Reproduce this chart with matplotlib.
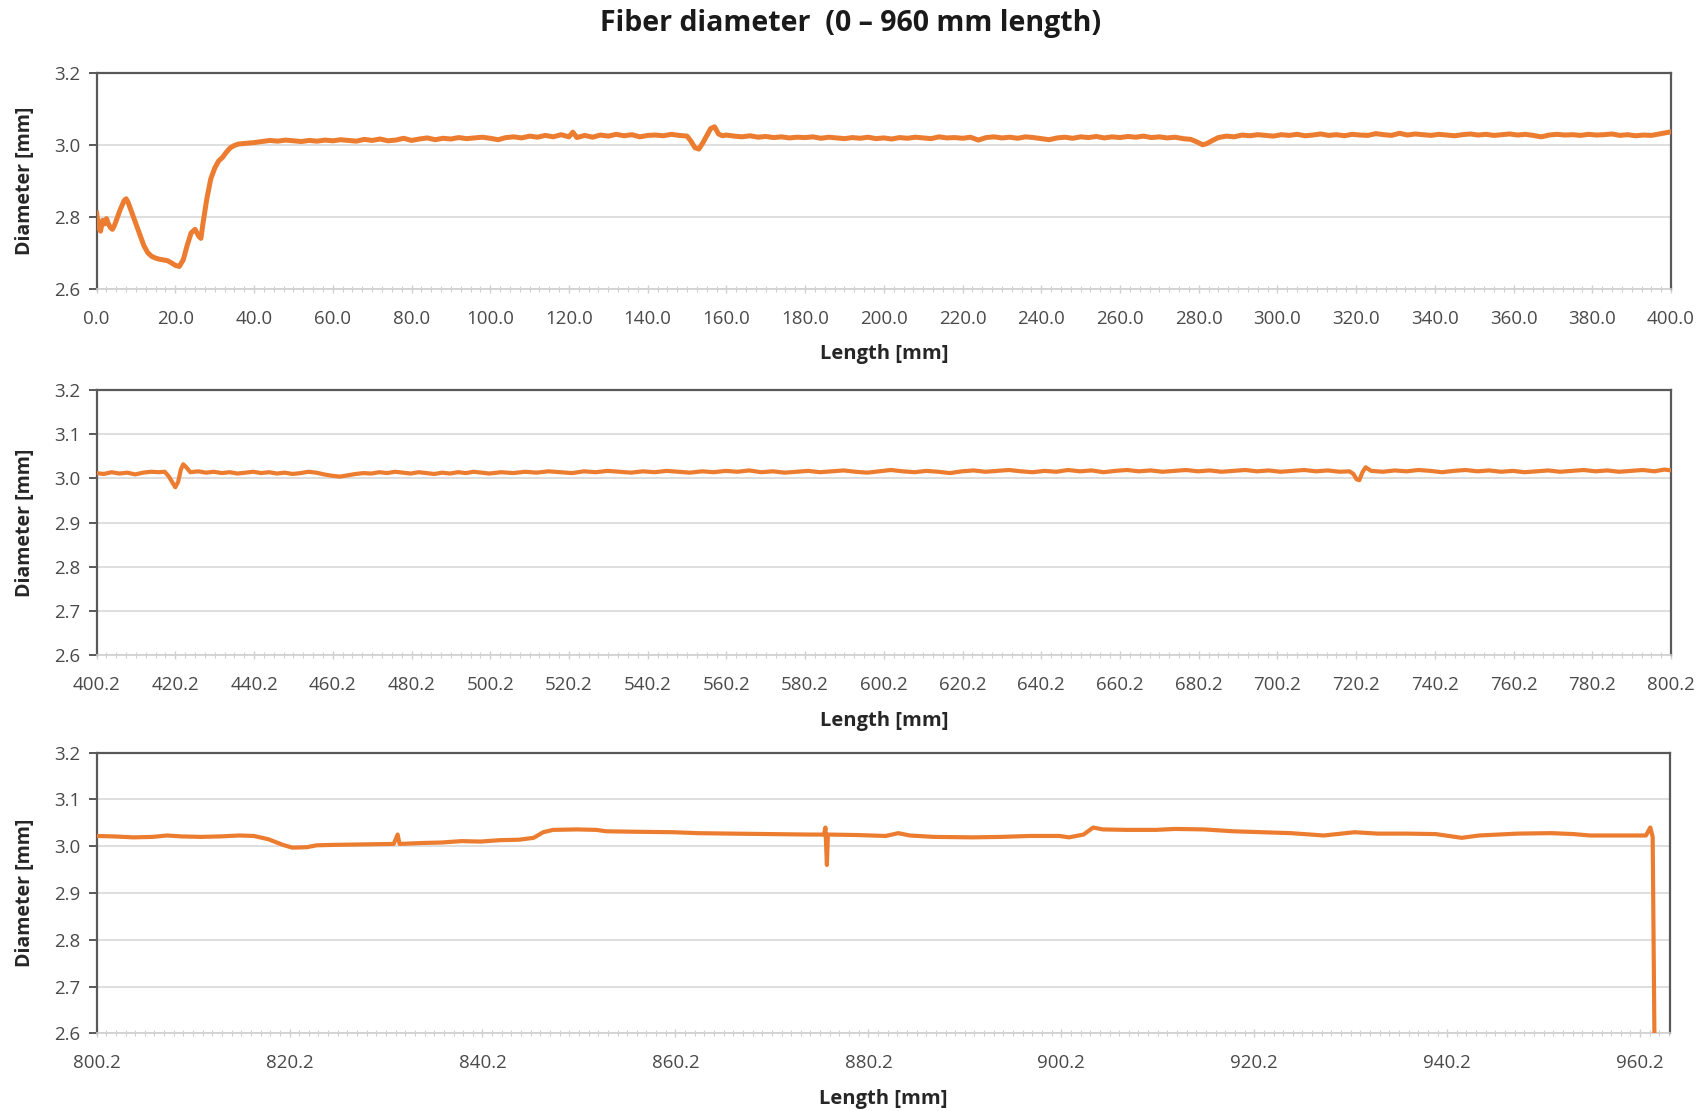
import matplotlib
matplotlib.use("Agg")
import matplotlib.pyplot as plt
from matplotlib.ticker import MultipleLocator, FixedLocator
import numpy as np

# ---------------- data ----------------
top_x = [0, 0.5, 1, 1.5, 2, 2.5, 3, 3.5, 4, 4.5, 5, 6, 7, 7.5, 8, 9, 10, 11, 12, 13, 14, 15, 16, 17, 18, 19,
         20, 21, 22, 23, 24, 25, 26, 26.5, 27, 28, 29, 30, 31, 32, 33, 34, 35, 36, 38, 40,
         42, 44, 46, 48, 50, 52, 54, 56, 58, 60, 62, 64, 66, 68, 70, 72, 74, 76, 78, 80,
         82, 84, 86, 88, 90, 92, 94, 96, 98, 100, 102, 104, 106, 108, 110, 112, 114, 116, 118, 120,
         121, 122, 124, 126, 128, 130, 132, 134, 136, 138, 140, 142, 144, 146, 148, 150,
         151, 152, 153, 154, 155, 156, 157, 158, 159, 160, 162, 164, 166, 168, 170, 172, 174, 176, 178, 180,
         182, 184, 186, 188, 190, 192, 194, 196, 198, 200, 202, 204, 206, 208, 210, 212, 214, 216, 218, 220,
         222, 224, 226, 228, 230, 232, 234, 236, 238, 240, 242, 244, 246, 248, 250, 252, 254, 256, 258, 260,
         262, 264, 266, 268, 270, 272, 274, 276, 278, 279.5, 281, 282, 283.5, 285, 287, 289, 291, 293, 295, 297,
         299, 301, 303, 305, 307, 309, 311, 313, 315, 317, 319, 321, 323, 325, 327, 329, 331, 333, 335, 337,
         339, 341, 343, 345, 347, 349, 351, 353, 355, 357, 359, 361, 363, 365, 367, 369, 371, 373, 375, 377,
         379, 381, 383, 385, 387, 389, 391, 393, 395, 397, 399, 400]
top_y = [2.81, 2.77, 2.76, 2.79, 2.78, 2.795, 2.78, 2.77, 2.765, 2.775, 2.79, 2.82, 2.845, 2.85, 2.84, 2.81,
         2.78, 2.75, 2.72, 2.70, 2.69, 2.685, 2.682, 2.68, 2.678, 2.672,
         2.665, 2.662, 2.68, 2.72, 2.755, 2.765, 2.745, 2.74, 2.78, 2.85, 2.905, 2.935, 2.955, 2.965, 2.98,
         2.992, 2.998, 3.002, 3.004, 3.006,
         3.009, 3.012, 3.010, 3.013, 3.011, 3.009, 3.012, 3.010, 3.013, 3.011, 3.014, 3.012, 3.010, 3.015,
         3.012, 3.016, 3.011, 3.013, 3.018, 3.012,
         3.016, 3.019, 3.014, 3.018, 3.016, 3.020, 3.017, 3.019, 3.021, 3.018, 3.014, 3.020, 3.022, 3.019,
         3.024, 3.021, 3.026, 3.022, 3.028, 3.022,
         3.035, 3.020, 3.026, 3.021, 3.027, 3.024, 3.029, 3.025, 3.028, 3.022, 3.026, 3.027, 3.025, 3.029,
         3.026, 3.024,
         3.010, 2.992, 2.988, 3.005, 3.025, 3.045, 3.050, 3.030, 3.025, 3.027, 3.024, 3.022, 3.025, 3.021,
         3.023, 3.020, 3.022, 3.019, 3.021, 3.020,
         3.022, 3.018, 3.021, 3.019, 3.017, 3.020, 3.018, 3.021, 3.017, 3.019, 3.016, 3.020, 3.018, 3.021,
         3.019, 3.017, 3.022, 3.019, 3.020, 3.018,
         3.021, 3.013, 3.020, 3.022, 3.019, 3.021, 3.018, 3.022, 3.020, 3.017, 3.014, 3.019, 3.021, 3.018,
         3.022, 3.020, 3.023, 3.019, 3.022, 3.020,
         3.023, 3.021, 3.024, 3.020, 3.022, 3.019, 3.021, 3.017, 3.015, 3.008, 3.000, 3.003, 3.012, 3.020,
         3.024, 3.022, 3.027, 3.025, 3.028, 3.026,
         3.024, 3.028, 3.026, 3.029, 3.025, 3.027, 3.030, 3.026, 3.028, 3.025, 3.029, 3.027, 3.026, 3.031,
         3.028, 3.026, 3.032, 3.027, 3.030, 3.028,
         3.026, 3.029, 3.027, 3.025, 3.028, 3.030, 3.027, 3.029, 3.026, 3.028, 3.030, 3.027, 3.029, 3.026,
         3.022, 3.027, 3.029, 3.027, 3.028, 3.026,
         3.029, 3.027, 3.028, 3.030, 3.026, 3.028, 3.025, 3.027, 3.026, 3.030, 3.034, 3.036]

mid_x = [400.2, 402, 404, 406, 408, 410, 412, 414, 416, 417.5, 418.5, 419.5, 420.2, 420.9, 421.6, 422.2, 423,
         424, 426, 428, 430, 432, 434, 436, 438, 440, 442, 444, 446, 448, 450, 452, 454, 456, 458, 460,
         462, 464, 466, 468, 470, 472, 474, 476, 478, 480, 482, 484, 486, 488, 490, 492, 494, 496, 498, 500,
         503, 506, 509, 512, 515, 518, 521, 524, 527, 530, 533, 536, 539, 542, 545, 548, 551, 554, 557, 560,
         563, 566, 569, 572, 575, 578, 581, 584, 587, 590, 593, 596, 599, 602, 605, 608, 611, 614, 617, 620,
         623, 626, 629, 632, 635, 638, 641, 644, 647, 650, 653, 656, 659, 662, 665, 668, 671, 674, 677, 680,
         683, 686, 689, 692, 695, 698, 701, 704, 707, 710, 713, 716, 718.5, 719.5, 720.3, 721, 721.8, 722.6,
         724, 727, 730, 733, 736, 739, 742, 745, 748, 751, 754, 757, 760, 763, 766, 769, 772, 775, 778, 781,
         784, 787, 790, 793, 796, 798.5, 800.2]
mid_y = [3.012, 3.010, 3.014, 3.011, 3.013, 3.009, 3.013, 3.015, 3.014, 3.015, 3.005, 2.990, 2.980, 2.992,
         3.020, 3.032, 3.025,
         3.014, 3.016, 3.013, 3.015, 3.012, 3.014, 3.011, 3.013, 3.015, 3.012, 3.014, 3.011, 3.013, 3.010,
         3.012, 3.015, 3.013, 3.009, 3.006,
         3.004, 3.007, 3.010, 3.012, 3.011, 3.014, 3.012, 3.015, 3.013, 3.011, 3.014, 3.012, 3.010, 3.013,
         3.011, 3.014, 3.012, 3.015, 3.013, 3.011,
         3.014, 3.012, 3.015, 3.013, 3.016, 3.014, 3.012, 3.016, 3.014, 3.017, 3.015, 3.013, 3.016, 3.014,
         3.017, 3.015, 3.013, 3.016, 3.014, 3.017,
         3.015, 3.018, 3.014, 3.016, 3.013, 3.015, 3.017, 3.014, 3.016, 3.018, 3.015, 3.013, 3.016, 3.019,
         3.016, 3.014, 3.017, 3.015, 3.012, 3.016,
         3.018, 3.015, 3.017, 3.019, 3.016, 3.014, 3.017, 3.015, 3.019, 3.016, 3.018, 3.014, 3.017, 3.019,
         3.016, 3.018, 3.015, 3.017, 3.019, 3.016,
         3.018, 3.015, 3.017, 3.019, 3.016, 3.018, 3.015, 3.017, 3.019, 3.016, 3.018, 3.015, 3.016, 3.010,
         2.998, 2.996, 3.014, 3.025,
         3.017, 3.015, 3.018, 3.016, 3.019, 3.017, 3.014, 3.017, 3.019, 3.016, 3.018, 3.015, 3.017, 3.014,
         3.016, 3.018, 3.015, 3.017, 3.019, 3.016,
         3.018, 3.015, 3.017, 3.019, 3.016, 3.020, 3.018]

bot_x = [800.2, 802, 804, 806, 807.5, 809, 811, 813, 815, 816.5, 818, 819.5, 820.5, 822, 823, 825, 828,
         831, 831.4, 831.6, 834, 836, 838, 840, 842, 844, 845.5, 846.5, 847.5, 850, 852, 853, 856, 860,
         862.5, 866, 870, 874, 875.6, 875.75, 875.9, 876.0, 879, 882, 883.3, 884.5, 887, 891, 894, 897,
         900, 901, 902.5, 903.5, 904.5, 907, 910, 912, 915, 918, 921, 924, 927.4, 930.6, 933, 936, 939,
         941.7, 943.5, 947.5, 951, 953.3, 955, 958, 960.8, 961.25, 961.5, 961.7]
bot_y = [3.022, 3.021, 3.019, 3.020, 3.023, 3.021, 3.020, 3.021, 3.023, 3.022, 3.015, 3.003, 2.997, 2.998,
         3.002, 3.003, 3.004, 3.005, 3.025, 3.005, 3.007, 3.008, 3.011, 3.010, 3.013, 3.014, 3.018, 3.030,
         3.035, 3.036, 3.035, 3.032, 3.031, 3.030, 3.028, 3.027, 3.026, 3.025, 3.025, 3.040, 2.960, 3.025,
         3.024, 3.022, 3.028, 3.023, 3.020, 3.019, 3.020, 3.022, 3.022, 3.019, 3.025, 3.040, 3.036, 3.035,
         3.035, 3.037, 3.036, 3.032, 3.030, 3.028, 3.023, 3.030, 3.027, 3.027, 3.026, 3.018, 3.023, 3.027,
         3.028, 3.026, 3.023, 3.023, 3.023, 3.040, 3.020, 2.550]

top_ticks = [0.0, 20.0, 40.0, 60.0, 80.0, 100.0, 120.0, 140.0, 160.0, 180.0, 200.0, 220.0, 240.0, 260.0,
             280.0, 300.0, 320.0, 340.0, 360.0, 380.0, 400.0]
mid_ticks = [400.2, 420.2, 440.2, 460.2, 480.2, 500.2, 520.2, 540.2, 560.2, 580.2, 600.2, 620.2, 640.2,
             660.2, 680.2, 700.2, 720.2, 740.2, 760.2, 780.2, 800.2]
bot_ticks = [800.2, 820.2, 840.2, 860.2, 880.2, 900.2, 920.2, 940.2, 960.2]

# ---------------- styling ----------------
plt.rcParams['font.family'] = ['Open Sans', 'DejaVu Sans']
ORANGE = '#EC7C30'
FRAME = '#595959'
GRID = '#d9d9d9'
TICKC = '#4a4a4a'

fig = plt.figure(figsize=(17.01, 11.11), dpi=100)
fig.patch.set_facecolor('white')

panels = [
    dict(pos=[0.0568, 0.7401, 0.9256, 0.1944], x=top_x, y=top_y, xlim=(0, 400), ticks=top_ticks,
         fmt='{:.1f}', ystep=0.2, lw=3.6, minor=2.5),
    dict(pos=[0.0568, 0.4102, 0.9256, 0.2388], x=mid_x, y=mid_y, xlim=(400.2, 800.2), ticks=mid_ticks,
         fmt='{:.1f}', ystep=0.1, lw=3.0, minor=2.5),
    dict(pos=[0.0568, 0.0699, 0.9250, 0.2526], x=bot_x, y=bot_y, xlim=(800.2, 963.3), ticks=bot_ticks,
         fmt='{:.1f}', ystep=0.1, lw=3.0, minor=1.0),
]

for p in panels:
    ax = fig.add_axes(p['pos'])
    ax.plot(p['x'], p['y'], color=ORANGE, lw=p['lw'], solid_joinstyle='round', zorder=3)
    ax.set_xlim(*p['xlim'])
    ax.set_ylim(2.6, 3.2)
    ax.yaxis.set_major_locator(MultipleLocator(p['ystep']))
    ax.yaxis.set_major_formatter(matplotlib.ticker.FormatStrFormatter('%.1f'))
    ax.xaxis.set_major_locator(FixedLocator(p['ticks']))
    ax.set_xticklabels([p['fmt'].format(t) for t in p['ticks']])
    minors = np.arange(p['xlim'][0], p['xlim'][1] + 1e-6, p['minor'])
    ax.xaxis.set_minor_locator(FixedLocator(minors))
    ax.grid(axis='y', color=GRID, lw=1.2, zorder=0)
    for s in ['left', 'top', 'right']:
        ax.spines[s].set_color(FRAME)
        ax.spines[s].set_linewidth(1.6)
    ax.spines['bottom'].set_color('#d0d0d0')
    ax.spines['bottom'].set_linewidth(1.2)
    ax.tick_params(axis='y', which='major', direction='out', length=6, width=1.4, color=FRAME,
                   labelsize=13.5, labelcolor=TICKC, pad=6)
    ax.tick_params(axis='x', which='major', direction='inout', length=6, width=1.0, color='#d0d0d0',
                   labelsize=13.5, labelcolor=TICKC, pad=12)
    ax.tick_params(axis='x', which='minor', direction='inout', length=4, width=0.8, color='#d0d0d0')
    ax.set_ylabel('Diameter [mm]', fontsize=14, fontweight='bold', color='#262626')
    ax.set_xlabel('Length [mm]', fontsize=14.5, fontweight='bold', color='#262626', labelpad=12)
    ax.yaxis.set_label_coords(-0.039, 0.5)

fig.text(0.5, 0.979, 'Fiber diameter  (0 \u2013 960 mm length)', ha='center', va='center',
         fontsize=20.5, fontweight='bold', color='#1a1a1a')

fig.savefig('out.png', dpi=100, facecolor='white')
